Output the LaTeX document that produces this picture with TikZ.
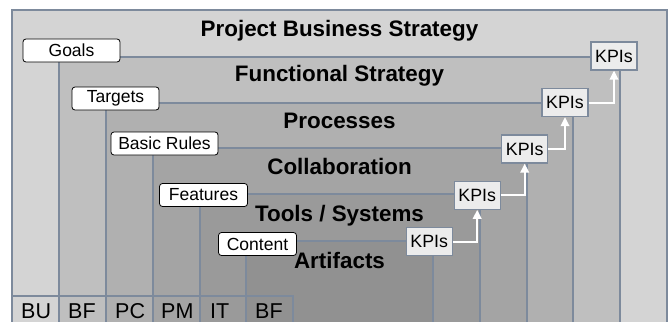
\documentclass[tikz,border=0pt]{standalone}
\usepackage{fontspec}
\setmainfont{Liberation Sans}
\usetikzlibrary{arrows.meta}
\definecolor{lvA}{HTML}{D4D4D4}
\definecolor{lvB}{HTML}{BFBFBF}
\definecolor{lvC}{HTML}{B0B0B0}
\definecolor{lvD}{HTML}{A4A4A4}
\definecolor{lvE}{HTML}{9A9A9A}
\definecolor{lvF}{HTML}{919191}
\definecolor{edgec}{HTML}{7D8A9C}
\definecolor{kpifill}{HTML}{ECECEC}
\tikzset{
  layer/.style={draw=edgec, line width=1.1pt},
  titletext/.style={anchor=base, inner sep=0pt, font=\fontsize{22.4}{26}\selectfont\bfseries},
  labelbox/.style={draw=black, fill=white, rounded corners=3pt, line width=0.8pt, inner sep=0pt,
    minimum height=23pt, font=\fontsize{17.5}{20}\selectfont},
  kpibox/.style={draw=edgec, fill=kpifill, line width=1.2pt, inner sep=0pt,
    minimum width=46pt, minimum height=28pt, font=\fontsize{17.8}{20}\selectfont},
  unittext/.style={anchor=base west, inner sep=0pt, font=\fontsize{21.5}{24}\selectfont},
  uparrow/.style={draw=white, line width=2pt, -{Triangle[width=8.5pt,length=9pt]}}
}
\begin{document}
\begin{tikzpicture}[x=1pt,y=-1pt]
\useasboundingbox (0,0) rectangle (671,321);
\clip (0,0) rectangle (671,321);
% nested layers
\draw[layer, fill=lvA] (12,10) rectangle (667,340);
\draw[layer, fill=lvB] (59,57) rectangle (620,340);
\draw[layer, fill=lvC] (106,103) rectangle (573,340);
\draw[layer, fill=lvD] (153,148) rectangle (527,340);
\draw[layer, fill=lvE] (200,194) rectangle (480,340);
\draw[layer, fill=lvF] (246,241) rectangle (433,340);
% bottom unit row
\draw[layer] (12,296) -- (293,296) -- (293,340);
\node[unittext] (uBU) at (21,318) {BU};
\node[unittext] (uBF) at (68,318) {BF};
\node[unittext] (uPC) at (115,318) {PC};
\node[unittext] (uPM) at (161,318) {PM};
\node[unittext] (uIT) at (210,318) {IT};
\node[unittext] (uBF2) at (255,318) {BF};
% titles
\node[titletext] (t1) at (339.5,36.7) {Project Business Strategy};
\node[titletext] (t2) at (339.5,81.7) {Functional Strategy};
\node[titletext] (t3) at (339.5,128) {Processes};
\node[titletext] (t4) at (339.5,174.5) {Collaboration};
\node[titletext] (t5) at (339.5,221.5) {Tools / Systems};
\node[titletext] (t6) at (339.5,268) {Artifacts};
% label boxes
\node[labelbox, minimum width=97pt] (goals) at (71.5,50.5) {Goals};
\node[labelbox, minimum width=87pt] (targets) at (115.5,98.5) {Targets};
\node[labelbox, minimum width=107pt] (rules) at (164.5,143.5) {Basic Rules};
\node[labelbox, minimum width=88pt] (features) at (203.5,195) {Features};
\node[labelbox, minimum width=78pt] (content) at (257.5,244) {Content};
% KPI boxes
\node[kpibox] (k1) at (614,56) {KPIs};
\node[kpibox] (k2) at (565,102.5) {KPIs};
\node[kpibox] (k3) at (524.7,149) {KPIs};
\node[kpibox] (k4) at (477.2,195.2) {KPIs};
\node[kpibox] (k5) at (429.2,241.8) {KPIs};
% arrows
\draw[uparrow] (k5.east) -| (k4.south);
\draw[uparrow] (k4.east) -| (k3.south);
\draw[uparrow] (k3.east) -| (k2.south);
\draw[uparrow] (k2.east) -| (k1.south);
\end{tikzpicture}
\end{document}
